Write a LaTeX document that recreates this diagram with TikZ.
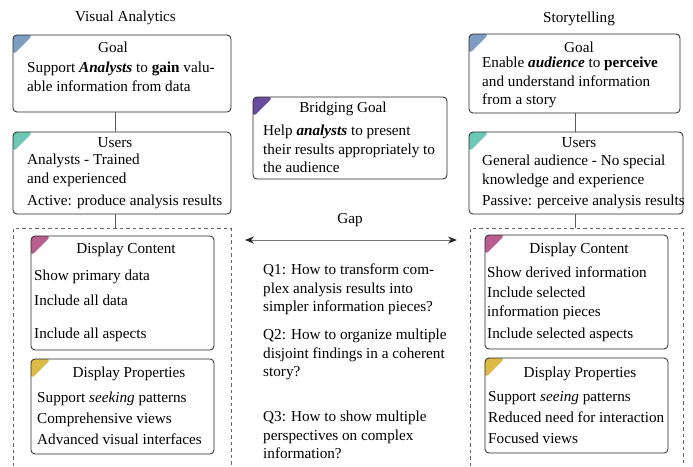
\documentclass[tikz,border=0pt]{standalone}
\usepackage{fontspec}
\setmainfont{LiberationSerif}[Extension=.ttf, UprightFont=*-Regular, BoldFont=*-Bold, ItalicFont=*-Italic, BoldItalicFont=*-BoldItalic]
\usetikzlibrary{arrows.meta}
\definecolor{goalc}{HTML}{7D9EC0}
\definecolor{userc}{HTML}{6CC8B4}
\definecolor{contc}{HTML}{B85F8F}
\definecolor{propc}{HTML}{DCBA45}
\definecolor{bridgec}{HTML}{6A4C9C}
\tikzset{
  tag/.style={path picture={\fill[#1] (path picture bounding box.north west) -- ++(20pt,0pt) -- ++(-20pt,-20pt) -- cycle;}},
  box/.style={draw=black!85, line width=0.8pt, rounded corners=4pt, tag=#1},
  head/.style={anchor=center, inner sep=0pt},
  txt/.style={anchor=north west, inner sep=0pt, align=left},
  link/.style={draw=black!65, line width=1pt},
  frame/.style={draw=black!60, line width=0.7pt, dash pattern=on 3.5pt off 3pt},
  gaparrow/.style={draw=black!55, line width=1pt, {Stealth[length=9pt,width=7pt,color=black!85]}-{Stealth[length=9pt,width=7pt,color=black!85]}}
}
\begin{document}
\begin{tikzpicture}[x=1pt, y=-1pt, font=\fontsize{15.2}{18.5}\selectfont]
	\useasboundingbox (0,0) rectangle (693,466);
	\node[head] (vatitle) at (125.5,18) {Visual Analytics};
	\node[head] (sttitle) at (579,19) {Storytelling};

	\node[box=goalc, minimum width=218pt, minimum height=77pt] (vagoal) at (122,73.5) {};
	\node[box=userc, minimum width=218pt, minimum height=82pt] (vausers) at (122,173) {};
	\node[box=contc, minimum width=183pt, minimum height=114pt] (vacontent) at (122.5,293) {};
	\node[box=propc, minimum width=183pt, minimum height=95pt] (vaprops) at (122.5,406.5) {};

	\node[box=goalc, minimum width=211pt, minimum height=79pt] (stgoal) at (574.5,73.5) {};
	\node[box=userc, minimum width=214pt, minimum height=82pt] (stusers) at (576,173) {};
	\node[box=contc, minimum width=183pt, minimum height=114pt] (stcontent) at (576.5,292) {};
	\node[box=propc, minimum width=183pt, minimum height=95pt] (stprops) at (576.5,405.5) {};

	\node[box=bridgec, minimum width=194pt, minimum height=82pt] (bridge) at (350,138) {};

	\coordinate (vaframe) at (115,228);
	\coordinate (stframe) at (575,228);
	\draw[frame] (13,466) -- (13,228) -- (231,228) -- (231,466);
	\draw[frame] (470,466) -- (470,228) -- (683,228) -- (683,466);
	\draw[link] (vagoal.south -| vaframe) -- (vausers.north -| vaframe);
	\draw[link] (vausers.south -| vaframe) -- (vaframe);
	\draw[link] (stgoal.south -| stframe) -- (stusers.north -| stframe);
	\draw[link] (stusers.south -| stframe) -- (stframe);

	\node[head] (vagoalh) at (113,47) {Goal};
	\node[txt] (vagoalt) at (27,62) {Support \textbf{\textit{Analysts}} to \textbf{gain} valu-\\able information from data};
	\node[head] (vausersh) at (115,143) {Users};
	\node[txt] (vausers1) at (27,154) {Analysts - Trained\\and experienced};
	\node[txt] (vausers2) at (27,195) {Active: produce analysis results};
	\node[head] (vacontenth) at (126,250) {Display Content};
	\node[txt] (vacontent1) at (34,270) {Show primary data};
	\node[txt] (vacontent2) at (34,295) {Include all data};
	\node[txt] (vacontent3) at (34,328) {Include all aspects};
	\node[head] (vapropsh) at (129,374) {Display Properties};
	\node[txt] (vaprops1) at (37,392) {Support \textit{seeking} patterns};
	\node[txt] (vaprops2) at (37,413) {Comprehensive views};
	\node[txt] (vaprops3) at (37,434) {Advanced visual interfaces};

	\node[head] (stgoalh) at (579,47) {Goal};
	\node[txt] (stgoalt) at (482,57) {Enable \textbf{\textit{audience}} to \textbf{perceive}\\and understand information\\from a story};
	\node[head] (stusersh) at (579,143) {Users};
	\node[txt] (stusers1) at (482,155) {General audience - No special\\knowledge and experience};
	\node[txt] (stusers2) at (482,195) {Passive: perceive analysis results};
	\node[head] (stcontenth) at (579,250) {Display Content};
	\node[txt] (stcontent1) at (487,267) {Show derived information};
	\node[txt] (stcontent2) at (487,287) {Include selected\\information pieces};
	\node[txt] (stcontent3) at (487,328) {Include selected aspects};
	\node[head] (stpropsh) at (580,374) {Display Properties};
	\node[txt] (stprops1) at (488,391) {Support \textit{seeing} patterns};
	\node[txt] (stprops2) at (488,412) {Reduced need for interaction};
	\node[txt] (stprops3) at (488,433) {Focused views};

	\node[head] (bridgeh) at (343,109) {Bridging Goal};
	\node[txt] (bridget) at (263,125) {Help \textbf{\textit{analysts}} to present\\their results appropriately to\\the audience};

	\node[head] (gap) at (350,220) {Gap};
	\coordinate (gapl) at (245,240);
	\coordinate (gapr) at (457,240);
	\draw[gaparrow] (gapl) -- (gapr);
	\node[txt] (q1) at (263,264) {Q1: How to transform com-\\plex analysis results into\\simpler information pieces?};
	\node[txt] (q2) at (263,329) {Q2: How to organize multiple\\disjoint findings in a coherent\\story?};
	\node[txt] (q3) at (263,411) {Q3: How to show multiple\\perspectives on complex\\information?};
\end{tikzpicture}
\end{document}
